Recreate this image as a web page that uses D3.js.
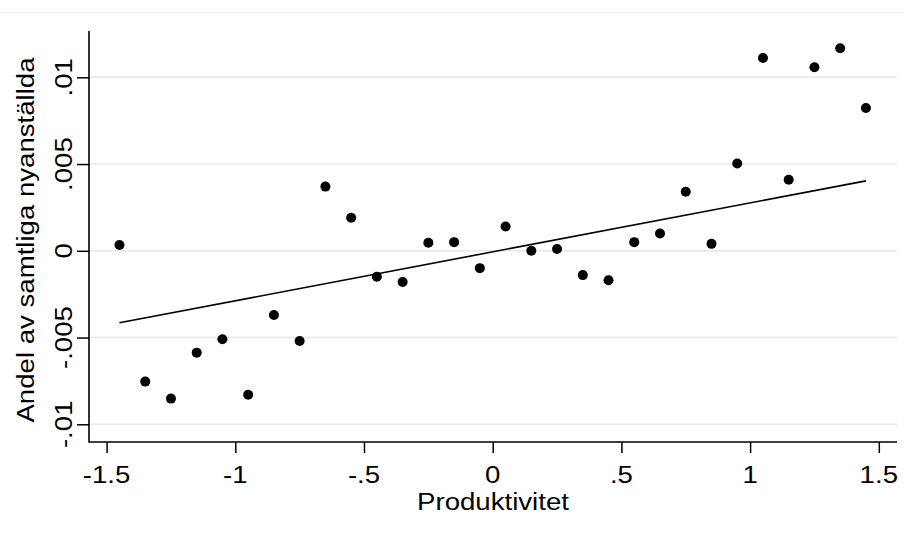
<!DOCTYPE html>
<html>
<head>
<meta charset="utf-8">
<script src="https://cdn.jsdelivr.net/npm/d3@7"></script>
<style>
  body { margin: 0; background: #fff; }
  text { font-family: 'Liberation Sans', Arial, sans-serif; fill: #000; }
</style>
</head>
<body>
<svg id="chart" width="904" height="535"></svg>
<script>
// binned x values (bin centers)
const binX = [-1.45, -1.35, -1.25, -1.15, -1.05, -0.95, -0.85, -0.75, -0.65, -0.55,
  -0.45, -0.35, -0.25, -0.15, -0.05, 0.05, 0.15, 0.25, 0.35, 0.45,
  0.55, 0.65, 0.75, 0.85, 0.95, 1.05, 1.15, 1.25, 1.35, 1.45];
// share of new hires per bin
const binY = [0.00033, -0.00754, -0.00852, -0.00587, -0.0051, -0.0083, -0.0037, -0.0052, 0.0037, 0.0019,
  -0.0015, -0.0018, 0.00046, 0.0005, -0.001, 0.0014, 0.0, 0.0001, -0.0014, -0.0017,
  0.0005, 0.001, 0.0034, 0.0004, 0.00503, 0.01111, 0.00409, 0.01058, 0.01167, 0.00823];
// fitted line endpoints
const fitX = [-1.45, 1.45];
const fitY = [-0.00415, 0.00403];

const xTicks = [-1.5, -1, -0.5, 0, 0.5, 1, 1.5];
const yTicks = [-0.01, -0.005, 0, 0.005, 0.01];
const xTitle = 'Produktivitet';
const yTitle = 'Andel av samtliga nyanställda';

const fmt = (d) => {
  if (d === 0) return '0';
  const s = String(d);
  return s.replace(/^0\./, '.').replace(/^-0\./, '-.');
};

const svg = d3.select('#chart');
const plot = { left: 89, right: 897, top: 31, bottom: 442 };

// x scale: 0 -> 492.7, 1.5 -> 879
const x = d3.scaleLinear().domain([-1.5, 1.5]).range([106.6, 878.8]);
// y scale: .01 -> 77.3, -.01 -> 424.3
const y = d3.scaleLinear().domain([-0.01, 0.01]).range([424.3, 77.3]);

// faint outer frame line
svg.append('line')
  .attr('x1', 0).attr('x2', 904)
  .attr('y1', 12.5).attr('y2', 12.5)
  .attr('stroke', '#efefef').attr('stroke-width', 1);

// grid lines
svg.append('g')
  .selectAll('line')
  .data(yTicks)
  .enter()
  .append('line')
  .attr('x1', plot.left).attr('x2', plot.right)
  .attr('y1', (d) => y(d)).attr('y2', (d) => y(d))
  .attr('stroke', '#e8e8e8').attr('stroke-width', 1.5);

// axes
const xAxis = svg.append('g')
  .attr('transform', `translate(0,${plot.bottom})`)
  .call(d3.axisBottom(x).tickValues(xTicks).tickSize(11).tickSizeOuter(0).tickFormat(''));
xAxis.select('.domain').remove();
xAxis.selectAll('line').attr('stroke', '#000').attr('stroke-width', 1.5);

const yAxis = svg.append('g')
  .attr('transform', `translate(${plot.left},0)`)
  .call(d3.axisLeft(y).tickValues(yTicks).tickSize(12).tickSizeOuter(0).tickFormat(''));
yAxis.select('.domain').remove();
yAxis.selectAll('line').attr('stroke', '#000').attr('stroke-width', 1.5);

svg.append('path')
  .attr('d', `M${plot.left},${plot.top}V${plot.bottom}H${plot.right}`)
  .attr('fill', 'none')
  .attr('stroke', '#000')
  .attr('stroke-width', 1.6);

// tick labels
svg.append('g')
  .selectAll('text')
  .data(xTicks)
  .enter()
  .append('text')
  .attr('transform', (d) => `translate(${x(d)},483) scale(1.15,1)`)
  .attr('text-anchor', 'middle')
  .style('font-size', '24px')
  .text(fmt);

svg.append('g')
  .selectAll('text')
  .data(yTicks)
  .enter()
  .append('text')
  .attr('transform', (d) => `translate(72,${y(d)}) rotate(-90) scale(1.15,1)`)
  .attr('text-anchor', 'middle')
  .style('font-size', '24px')
  .text(fmt);

// axis titles
svg.append('text')
  .attr('transform', `translate(${(plot.left + plot.right) / 2},510) scale(1.15,1)`)
  .attr('text-anchor', 'middle')
  .style('font-size', '24px')
  .text(xTitle);

svg.append('text')
  .attr('transform', `translate(33.5,240) rotate(-90) scale(1.15,1)`)
  .attr('text-anchor', 'middle')
  .style('font-size', '24px')
  .text(yTitle);

// fitted line
svg.append('path')
  .datum(fitX.map((d, i) => [d, fitY[i]]))
  .attr('fill', 'none')
  .attr('stroke', '#000')
  .attr('stroke-width', 1.6)
  .attr('d', d3.line().x((d) => x(d[0])).y((d) => y(d[1])));

// points
svg.append('g')
  .selectAll('circle')
  .data(binX.map((d, i) => ({ bx: d, by: binY[i] })))
  .enter()
  .append('circle')
  .attr('cx', (d) => x(d.bx))
  .attr('cy', (d) => y(d.by))
  .attr('r', 5)
  .attr('fill', '#000');
</script>
</body>
</html>
